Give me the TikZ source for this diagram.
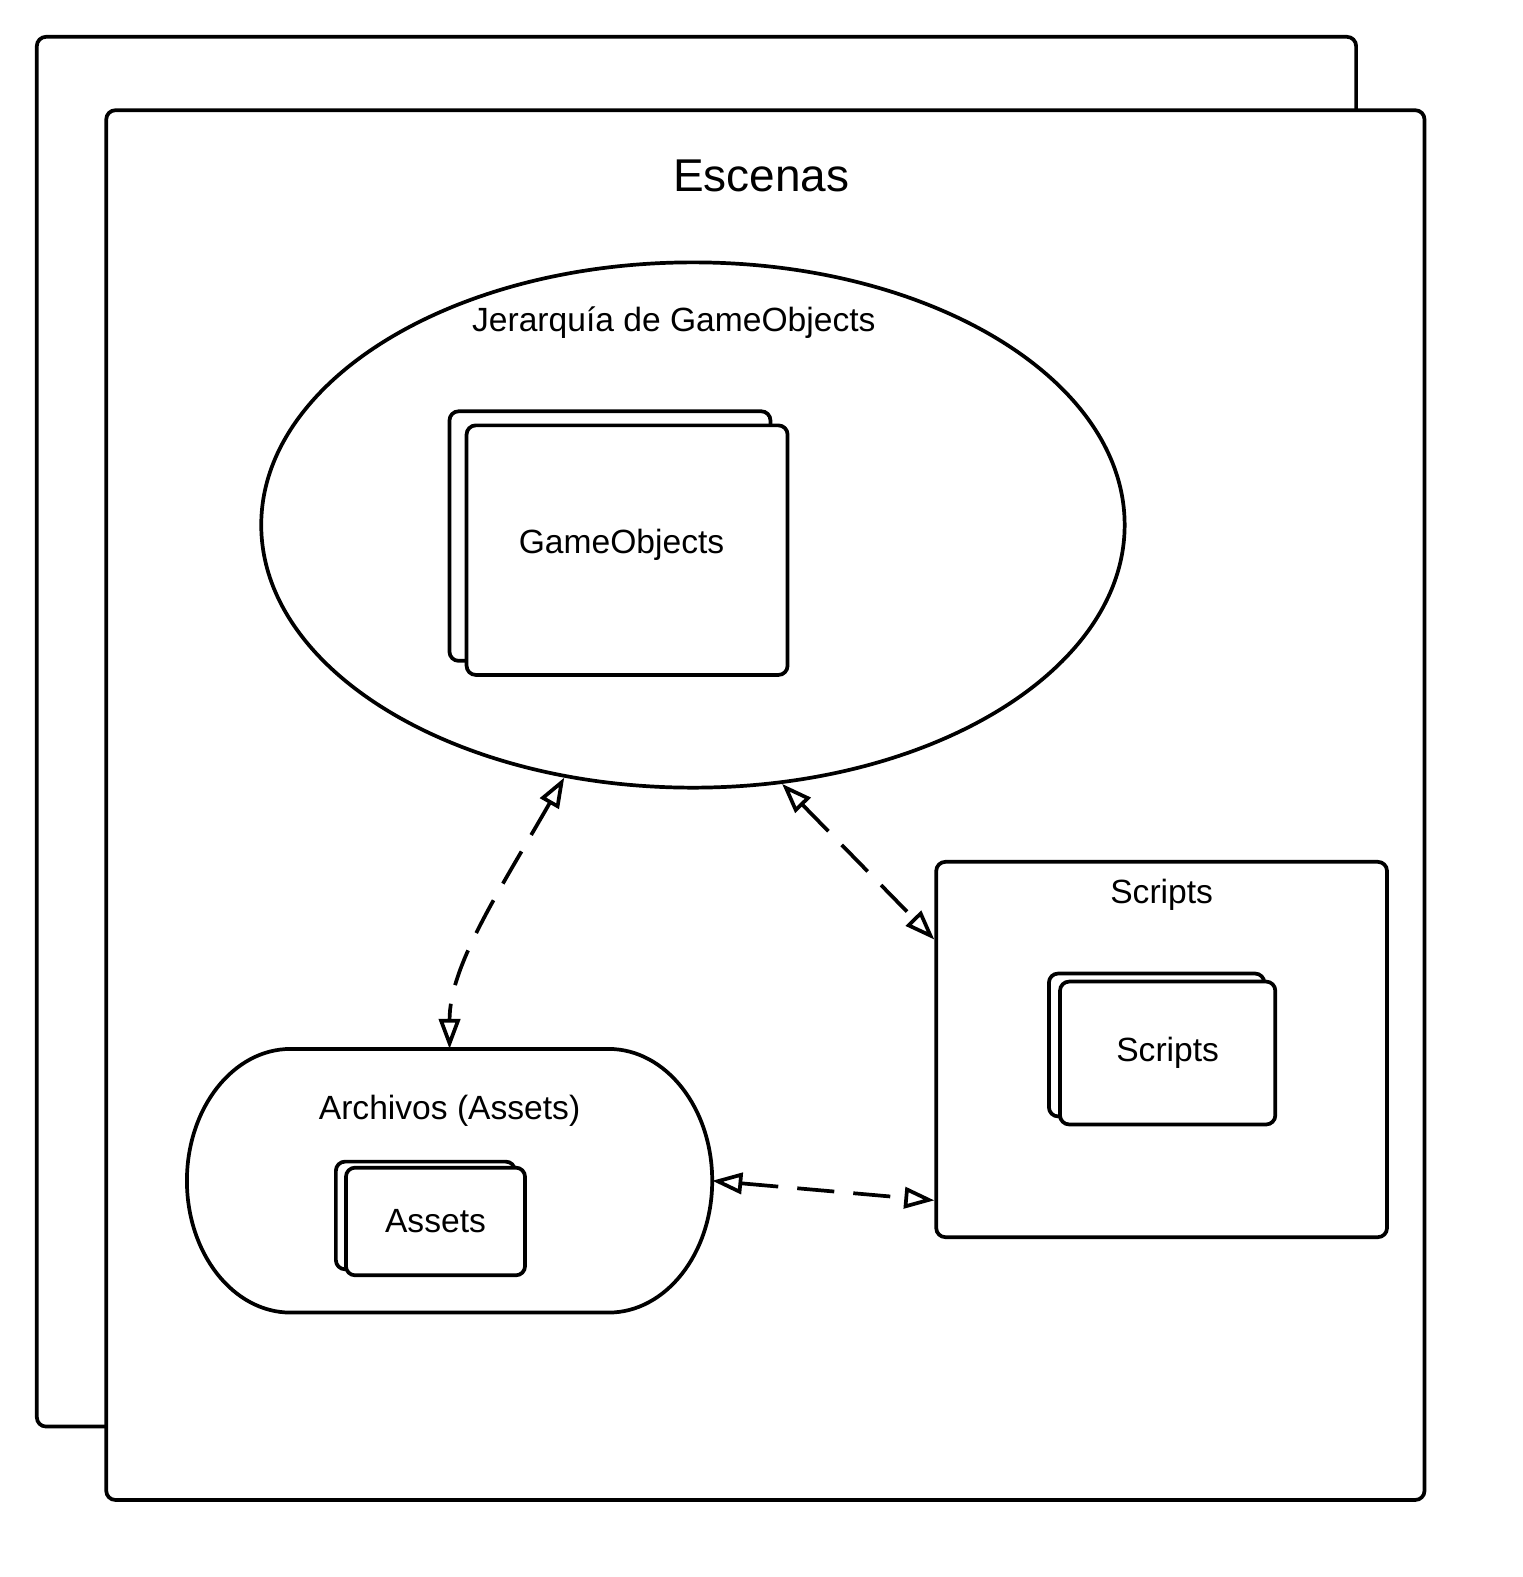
\documentclass[tikz,border=0pt]{standalone}
\usepackage{fontspec}
\setmainfont{Liberation Sans}
\usetikzlibrary{calc,shapes.geometric,arrows.meta,shadows}

\begin{document}
\begin{tikzpicture}[
    x=0.01cm,y=-0.01cm,
    frame/.style={rectangle,rounded corners=2.6pt,draw=black,fill=white,line width=1.05pt,inner sep=0pt},
    stack/.style={frame,font=\fontsize{9.5}{11}\selectfont,copy shadow={#1}},
    title/.style={inner sep=0pt,font=\fontsize{9.5}{11}\selectfont},
    link/.style={{Triangle[open,length=8.5pt,width=6pt]}-{Triangle[open,length=8.5pt,width=6pt]},
      line width=1.05pt,dash pattern=on 10.5pt off 5.4pt}
  ]
    \useasboundingbox (0,0) rectangle (1514,1568);
    % Scene frames
    \node[frame,minimum width=13.11cm,minimum height=13.81cm] (sceneback) at (692.5,727.5) {};
    \node[frame,minimum width=13.10cm,minimum height=13.81cm] (scene) at (761,800.5) {};
    \node[inner sep=0pt,font=\fontsize{13}{15}\selectfont] (scenetitle) at (757,175) {Escenas};
    % Hierarchy
    \node[ellipse,draw=black,line width=1.05pt,inner sep=0pt,minimum width=8.58cm,minimum height=5.22cm] (ell) at (689,522) {};
    \node[title] (elltitle) at (670,321) {Jerarqu\'ia de GameObjects};
    \node[stack={shadow xshift=-1.7mm,shadow yshift=1.4mm},minimum width=3.19cm,minimum height=2.48cm] (gobj) at (623.5,547) {};
    \node[title] (gobjtext) at (618,542) {GameObjects};
    % Assets
    \node[inner sep=0pt,outer sep=0pt,minimum width=5.22cm,minimum height=2.62cm] (arch) at (447,1174) {};
    \draw[line width=1.05pt] ([xshift=-1.03cm]arch.north east) -- ([xshift=1.03cm]arch.north west)
      arc[start angle=90,end angle=270,x radius=1.03cm,y radius=1.31cm]
      -- ([xshift=-1.03cm]arch.south east)
      arc[start angle=-90,end angle=90,x radius=1.03cm,y radius=1.31cm] -- cycle;
    \node[title] (archtitle) at (447,1104) {Archivos (Assets)};
    \node[stack={shadow xshift=-1.0mm,shadow yshift=0.6mm},minimum width=1.78cm,minimum height=1.07cm] (assets) at (433,1214.5) {Assets};
    % Scripts
    \node[frame,minimum width=4.48cm,minimum height=3.73cm] (scr) at (1155,1043.5) {};
    \node[title] (scrtitle) at (1155,890) {Scripts};
    \node[stack={shadow xshift=-1.1mm,shadow yshift=0.8mm},minimum width=2.14cm,minimum height=1.42cm] (scripts) at (1161,1047) {Scripts};
    % Links
    \draw[link] (ell.243) .. controls (497,885) and (447,960) .. (arch.north);
    \draw[link] (ell.289) -- ($(scr.north west)!0.21!(scr.south west)$);
    \draw[link] (arch.east) -- ($(scr.north west)!0.898!(scr.south west)$);
\end{tikzpicture}
\end{document}
